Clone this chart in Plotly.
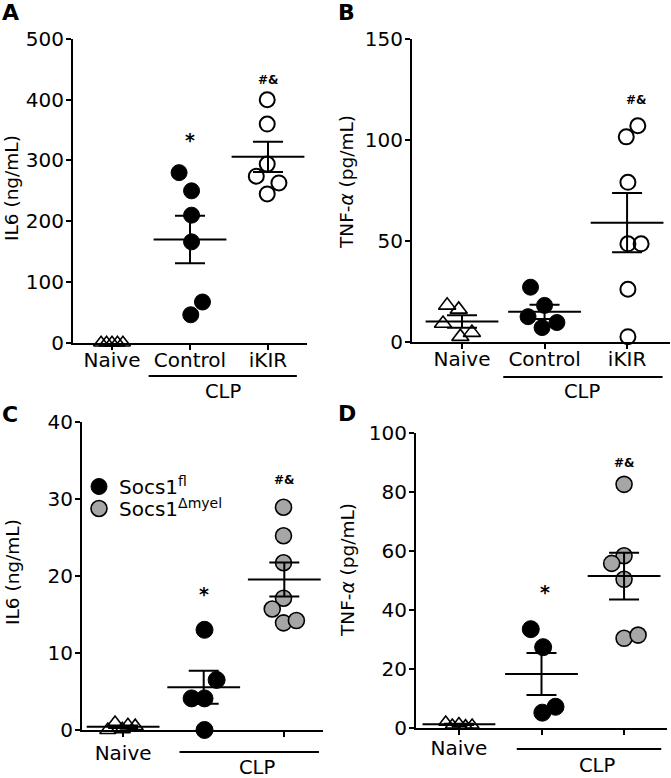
import plotly.graph_objects as go
import numpy as np

W, H = 671, 778
FONT = "DejaVu Sans"

# ---------------- data ----------------
cat_labels_top = ["Naive", "Control", "iKIR"]
cat_labels_bottom = ["Naive"]

# Panel A : IL6 (ng/mL)
a_naive = [0, 0, 0, 0, 0]
a_control = [280, 250, 210, 166, 67, 46]
a_ikir = [400, 360, 294, 274, 263, 245]
a_naive_jit = [-0.14, -0.07, 0.0, 0.07, 0.14]
a_control_jit = [-0.14, 0.02, 0.02, 0.02, 0.16, 0.01]
a_ikir_jit = [-0.01, -0.01, -0.01, -0.15, 0.14, -0.01]

# Panel B : TNF-a (pg/mL)
b_naive = [18, 16, 9, 2.5, 4.5]
b_control = [27, 18, 12.4, 9.5, 7]
b_ikir = [107, 101.5, 79, 48.5, 48.5, 26, 2.5]
b_naive_jit = [-0.18, -0.04, -0.23, -0.02, 0.12]
b_control_jit = [-0.17, 0.0, -0.2, 0.15, -0.03]
b_ikir_jit = [0.13, -0.01, 0.01, 0.01, 0.17, 0.01, 0.01]

# Panel C : IL6 (ng/mL)
c_naive = [0.9, 0.6, 0.5, 0.0, 0.1]
c_fl = [13, 6.5, 4.1, 4.1, 0]
c_dmyel = [28.9, 25.2, 21.7, 17.1, 15.7, 13.9, 14.2]
c_naive_jit = [-0.1, 0.06, 0.15, -0.19, -0.01]
c_fl_jit = [0.01, 0.16, -0.15, 0.01, 0.01]
c_dmyel_jit = [-0.01, -0.01, -0.01, -0.01, -0.15, -0.01, 0.15]

# Panel D : TNF-a (pg/mL)
d_naive = [2.0, 1.0, 1.5, 0.8, 1.0]
d_fl = [33.5, 27.4, 5.2, 7.2]
d_dmyel = [82.6, 58.4, 55.8, 50.4, 30.4, 31.5]
d_naive_jit = [-0.16, -0.08, 0.0, 0.08, 0.16]
d_fl_jit = [-0.13, 0.02, 0.01, 0.17]
d_dmyel_jit = [0.0, 0.0, -0.15, 0.0, 0.0, 0.17]

# significance marks (category index, y value, text)
a_marks = [(1, 334, "*"), (2, 433, "#&")]
b_marks = [(2.12, 120, "#&")]
c_marks = [(1, 17.7, "*"), (2, 32.4, "#&")]
d_marks = [(1.04, 46.2, "*"), (2, 90, "#&")]

# ---------------- helpers ----------------
def px_x(p):
    return p / W

def px_y(p):
    return 1 - p / H

fig = go.Figure()

# name: (x id, y id, x domain px, y domain px (bottom, top), x range, y range, dtick, x label standoff)
panels = {
    "A": ("x", "y", (73, 307), (342.7, 39), (-0.5, 2.5), (0, 500), 100, -7),
    "B": ("x2", "y2", (412, 670), (341.7, 39), (-0.606, 2.52), (0, 150), 50, -7),
    "C": ("x3", "y3", (82, 323), (730, 421.7), (-0.51, 2.48), (0, 40), 10, -1),
    "D": ("x4", "y4", (416, 667), (728, 433), (-0.52, 2.52), (0, 100), 20, -4),
}

def sem(v):
    v = np.asarray(v, dtype=float)
    if len(v) < 2:
        return 0.0
    return float(v.std(ddof=1) / np.sqrt(len(v)))

def add_group(xa, ya, idx, vals, jit, style, name=None, legend=None, mean_w=52, cap_w=15):
    xs = [idx + j for j in jit]
    kw = {}
    if legend:
        kw["legend"] = legend
    fig.add_trace(go.Scatter(
        x=xs, y=vals, mode="markers", xaxis=xa, yaxis=ya,
        marker=style, cliponaxis=False, name=name or "", showlegend=bool(legend),
        hoverinfo="skip", **kw))
    return (idx, float(np.mean(vals)), sem(vals), mean_w, cap_w)

def add_errs(xa, ya, groups):
    for idx, m, s, mw, cw in groups:
        if s == 0:
            continue
        fig.add_trace(go.Scatter(
            x=[idx], y=[m], mode="markers", xaxis=xa, yaxis=ya,
            marker=dict(symbol="line-ew", size=mw, color="black",
                        line=dict(width=2, color="black")),
            error_y=dict(type="data", array=[s], width=cw, thickness=2, color="black"),
            cliponaxis=False, showlegend=False, hoverinfo="skip"))

tri = lambda s: dict(symbol="triangle-up-open", size=s, color="black", line=dict(width=1.6, color="black"))
black = lambda s: dict(symbol="circle", size=s, color="black", line=dict(width=1, color="black"))
openc = lambda s: dict(symbol="circle-open", size=s, color="black", line=dict(width=2, color="black"))
gray = lambda s: dict(symbol="circle", size=s, color="#a6a6a6", line=dict(width=1.6, color="black"))

# Panel A
g = [add_group("x", "y", 0, a_naive, a_naive_jit, tri(13)),
     add_group("x", "y", 1, a_control, a_control_jit, black(16)),
     add_group("x", "y", 2, a_ikir, a_ikir_jit, openc(15))]
add_errs("x", "y", g)

# Panel B
g = [add_group("x2", "y2", 0, b_naive, b_naive_jit, tri(15)),
     add_group("x2", "y2", 1, b_control, b_control_jit, black(16)),
     add_group("x2", "y2", 2, b_ikir, b_ikir_jit, openc(15))]
add_errs("x2", "y2", g)

# Panel C
g = [add_group("x3", "y3", 0, c_naive, c_naive_jit, tri(14)),
     add_group("x3", "y3", 1, c_fl, c_fl_jit, black(17), name="Socs1<sup>fl</sup>", legend="legend"),
     add_group("x3", "y3", 2, c_dmyel, c_dmyel_jit, gray(16), name="Socs1<sup>\u0394myel</sup>", legend="legend2")]
add_errs("x3", "y3", g)

# Panel D
g = [add_group("x4", "y4", 0, d_naive, d_naive_jit, tri(12)),
     add_group("x4", "y4", 1, d_fl, d_fl_jit, black(17)),
     add_group("x4", "y4", 2, d_dmyel, d_dmyel_jit, gray(16))]
add_errs("x4", "y4", g)

# axes
layout_axes = {}
for key, (xa, ya, xd, yd, xr, yr, dt, xso) in panels.items():
    xname = "xaxis" + xa[1:]
    yname = "yaxis" + ya[1:]
    bottom = key in ("C", "D")
    xax = dict(
        domain=[px_x(xd[0]), px_x(xd[1])], range=list(xr), anchor=ya, automargin=False,
        showgrid=False, zeroline=False, showline=True, linecolor="black", linewidth=2,
        ticks="outside", ticklen=5, tickwidth=2, tickcolor="black",
        tickfont=dict(family=FONT, size=20, color="black"),
        ticklabelstandoff=xso, fixedrange=True)
    if bottom:
        xax.update(tickvals=[0], ticktext=cat_labels_bottom,
                   minor=dict(tickmode="array", tickvals=[1, 2], ticks="outside", ticklen=5,
                              tickwidth=2, tickcolor="black", showgrid=False))
    else:
        xax.update(tickvals=[0, 1, 2], ticktext=cat_labels_top)
    layout_axes[xname] = xax
    layout_axes[yname] = dict(
        domain=[px_y(yd[0]), px_y(yd[1])], range=list(yr), anchor=xa, automargin=False,
        showgrid=False, zeroline=False, showline=True, linecolor="black", linewidth=2,
        ticks="outside", ticklen=5, tickwidth=2, tickcolor="black",
        tick0=0, dtick=dt, tickfont=dict(family=FONT, size=20, color="black"),
        ticklabelstandoff=-2, fixedrange=True)

annotations = []
# panel letters
for txt, (x, y) in {"A": (10, 12), "B": (346, 12), "C": (10, 414), "D": (347, 413)}.items():
    annotations.append(dict(text="<b>%s</b>" % txt, x=px_x(x), y=px_y(y), xref="paper", yref="paper",
                            xanchor="center", yanchor="middle", showarrow=False,
                            font=dict(family=FONT, size=22, color="black")))
# y titles
ytitles = [("IL6 (ng/mL)", 12, 188), ("TNF-<i>\u03b1</i> (pg/mL)", 347, 182),
           ("IL6 (ng/mL)", 12, 572), ("TNF-<i>\u03b1</i> (pg/mL)", 347, 570)]
for txt, x, y in ytitles:
    annotations.append(dict(text=txt, x=px_x(x), y=px_y(y), xref="paper", yref="paper",
                            xanchor="center", yanchor="middle", textangle=-90, showarrow=False,
                            font=dict(family=FONT, size=18.5, color="black")))
# CLP labels
for x, y in [(223, 391), (582, 391), (257, 767), (597, 765)]:
    annotations.append(dict(text="CLP", x=px_x(x), y=px_y(y), xref="paper", yref="paper",
                            xanchor="center", yanchor="middle", showarrow=False,
                            font=dict(family=FONT, size=19.5, color="black")))
# significance marks
for (xa, ya), marks in [(("x", "y"), a_marks), (("x2", "y2"), b_marks),
                        (("x3", "y3"), c_marks), (("x4", "y4"), d_marks)]:
    for xi, yv, t in marks:
        annotations.append(dict(text="<b>%s</b>" % t, x=xi, y=yv, xref=xa, yref=ya,
                                xanchor="center", yanchor="middle", showarrow=False,
                                font=dict(family=FONT, size=19 if t == "*" else 12, color="black")))

shapes = []
for xref, x0, x1, y in [("x", 0.47, 2.37, 376), ("x2", 0.5, 2.43, 377),
                        ("x3", 0.7, 2.43, 752), ("x4", 0.7, 2.45, 749)]:
    shapes.append(dict(type="line", xref=xref, yref="paper", x0=x0, x1=x1,
                       y0=px_y(y), y1=px_y(y), line=dict(color="black", width=2)))

leg_common = dict(xanchor="left", yanchor="top", bgcolor="rgba(0,0,0,0)",
                  font=dict(family=FONT, size=20, color="black"), itemsizing="trace")

fig.update_layout(
    width=W, height=H, margin=dict(l=0, r=0, t=0, b=0),
    paper_bgcolor="white", plot_bgcolor="white",
    font=dict(family=FONT, color="black"),
    annotations=annotations, shapes=shapes,
    legend=dict(x=px_x(79), y=px_y(467), **leg_common),
    legend2=dict(x=px_x(79), y=px_y(489), **leg_common),
    **layout_axes,
)

fig.write_html("out.html", config={"displayModeBar": False, "staticPlot": True})

# remove the default page margin so the figure sits at the window origin
with open("out.html", "r", encoding="utf-8") as f:
    html = f.read()
html = html.replace("<head>", "<head><style>html,body{margin:0;padding:0;overflow:hidden;}</style>", 1)
with open("out.html", "w", encoding="utf-8") as f:
    f.write(html)
